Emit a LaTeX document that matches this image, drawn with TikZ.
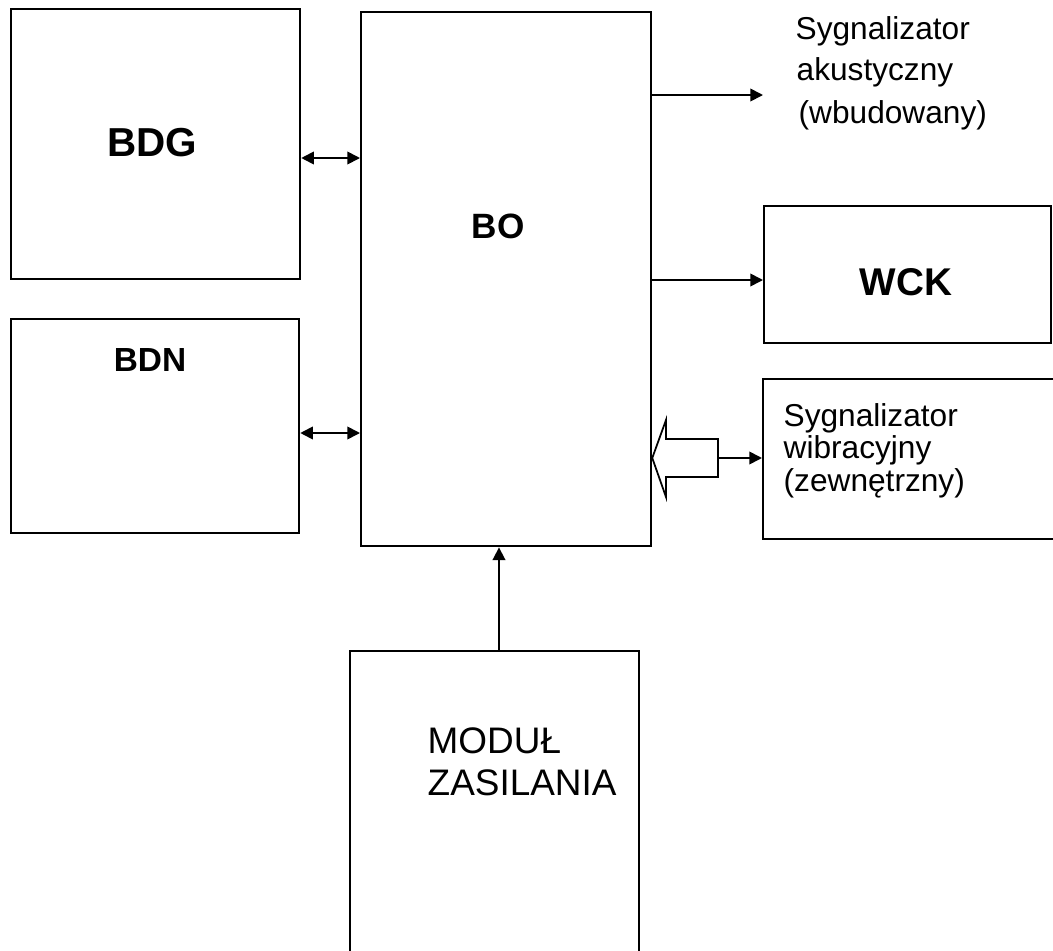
\documentclass[tikz,border=0pt]{standalone}
\usepackage{fontspec}
\setmainfont{Liberation Sans}
\usetikzlibrary{arrows.meta}
\begin{document}
\begin{tikzpicture}[x=0.01cm, y=-0.01cm, font=\fontsize{9}{10}\selectfont]
    % Styles
    \tikzset{box/.style={draw, line width=0.6pt, inner sep=0pt, anchor=north west},
             tip/.style={-{Triangle[length=3.6pt,width=3.6pt]}, line width=0.5pt},
             both tip/.style={{Triangle[length=3.6pt,width=3.6pt]}-{Triangle[length=3.6pt,width=3.6pt]}, line width=0.5pt},
             big/.style={font=\fontsize{10}{12}\selectfont\bfseries},
             txt/.style={anchor=base west, inner sep=0pt}}
    \useasboundingbox (0,0) rectangle (1053,951);

    % Blocks
    \node[box, minimum width=2.89cm, minimum height=2.70cm] (bdg) at (10,8) {};
    \node[box, minimum width=2.88cm, minimum height=2.14cm] (bdn) at (10,318) {};
    \node[box, minimum width=2.90cm, minimum height=5.34cm] (bo) at (360,11) {};
    \node[box, minimum width=2.87cm, minimum height=1.37cm] (wck) at (763,205) {};
    \node[box, minimum width=3.20cm, minimum height=1.60cm] (wib) at (762,378) {};
    \node[box, minimum width=2.89cm, minimum height=3.20cm] (modul) at (349,650) {};

    % Block names
    \node[big, font=\fontsize{11.5}{12}\selectfont\bfseries] (bdg_name) at (152,143) {BDG};
    \node[big, font=\fontsize{9.5}{10}\selectfont\bfseries] (bdn_name) at (150,360) {BDN};
    \node[big] (bo_name) at (498,226) {BO};
    \node[big, font=\fontsize{11}{12}\selectfont\bfseries] (wck_name) at (906,282) {WCK};

    % Acoustic signaller (no box)
    \coordinate (akus) at (763,95);
    \node[txt] (akus1) at (795,39) {Sygnalizator};
    \node[txt] (akus2) at (796,80) {akustyczny};
    \node[txt] (akus3) at (798,123) {(wbudowany)};

    % Vibration signaller
    \node[txt] (wib1) at (783,426) {Sygnalizator};
    \node[txt] (wib2) at (783,458) {wibracyjny};
    \node[txt] (wib3) at (783,491) {(zewnętrzny)};

    % Power module
    \node[txt, font=\fontsize{10.5}{12}\selectfont] (modul1) at (427,753) {MODUŁ};
    \node[txt, font=\fontsize{10.5}{12}\selectfont] (modul2) at (427,795) {ZASILANIA};

    % Connections
    \draw[both tip] (bdg.east |- 0,158) -- (bo.west |- 0,158);
    \draw[both tip] (bdn.east |- 0,433) -- (bo.west |- 0,433);
    \draw[tip] (bo.east |- 0,95) -- (akus);
    \draw[tip] (bo.east |- 0,280) -- (wck.west |- 0,280);

    % Hollow arrow into BO
    \coordinate (hollow) at (718,458);
    \draw[line width=0.5pt] (bo.east |- 0,458) -- (666,420) -- (666,439) -- (718,439)
        -- (718,477) -- (666,477) -- (666,497) -- cycle;
    \draw[tip] (hollow) -- (wib.west |- hollow);

    \draw[tip] (modul.north -| 499,0) -- (bo.south -| 499,0);
\end{tikzpicture}
\end{document}
